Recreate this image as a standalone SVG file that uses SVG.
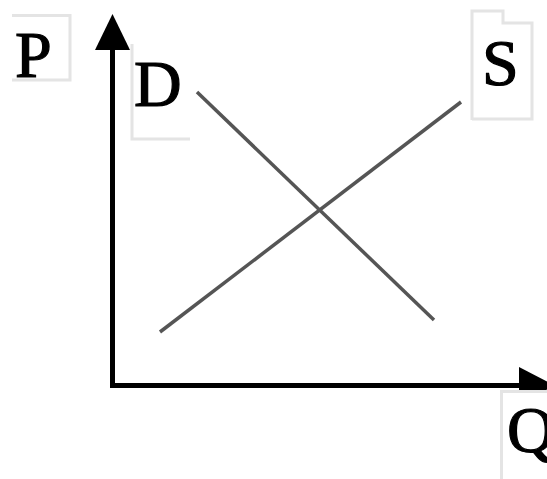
<svg xmlns="http://www.w3.org/2000/svg" width="547" height="479" viewBox="0 0 547 479">
<style>
.lbl{font-family:"Liberation Serif","Times New Roman",serif;font-size:66px;fill:#000;stroke:#000;stroke-width:1.2}
.box{fill:#fff;stroke:#e4e4e4;stroke-width:3}
.curve{stroke:#555;stroke-width:3.5;fill:none}
.axis{stroke:#000;stroke-width:5;fill:none}
</style>
<rect width="547" height="479" fill="#fff"/>
<g id="connectors">
<line class="curve" x1="197" y1="92" x2="434" y2="320"/>
<line class="curve" x1="160" y1="332" x2="461" y2="102"/>
<line class="axis" x1="112.5" y1="45" x2="112.5" y2="388"/>
<polygon points="112.5,14 95,50 130,50" fill="#000"/>
<line class="axis" x1="110" y1="385.5" x2="522" y2="385.5"/>
<polygon points="555,385.5 519,367 519,404" fill="#000"/>
</g>
<g id="P">
<path class="box" d="M12,15.5 H70 V80 H12"/>
<text class="lbl" x="15" y="77">P</text>
</g>
<g id="D">
<path class="box" d="M132,44 V139 H190"/>
<text class="lbl" x="134" y="106">D</text>
</g>
<g id="S">
<path class="box" d="M472,120 V11 H503 V23 H532 V119 H472"/>
<text class="lbl" x="482" y="85">S</text>
</g>
<g id="Q">
<path d="M501,479 V391 H547 V479 Z" fill="#fff"/>
<path class="box" d="M501.5,479 V391.5 H547"/>
<text class="lbl" x="507" y="452">Q</text>
</g>
</svg>
